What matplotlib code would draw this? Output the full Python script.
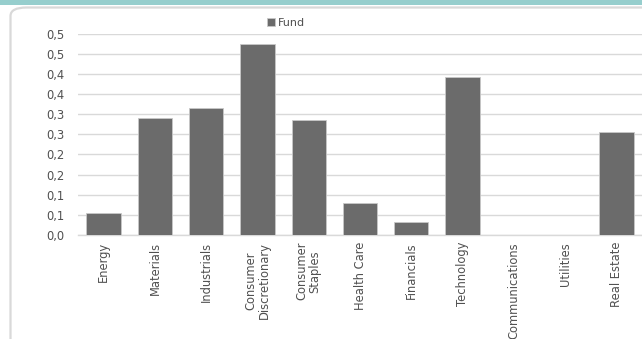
import matplotlib.pyplot as plt
from matplotlib.patches import FancyBboxPatch, Rectangle
import numpy as np

# --- data ---
sectors = ["Energy", "Materials", "Industrials", "Consumer\nDiscretionary",
           "Consumer\nStaples", "Health Care", "Financials", "Technology",
           "Communications", "Utilities", "Real Estate"]
fund = [0.055, 0.290, 0.316, 0.473, 0.285, 0.079, 0.032, 0.393, 0.0, 0.0, 0.256]
y_ticks = [0.0, 0.05, 0.10, 0.15, 0.20, 0.25, 0.30, 0.35, 0.40, 0.45, 0.50]
y_labels = ["0,0", "0,1", "0,1", "0,2", "0,2", "0,3", "0,3", "0,4", "0,4", "0,5", "0,5"]

W, H = 642, 339
fig = plt.figure(figsize=(W / 100, H / 100), dpi=100)

# teal strip on top and the rounded card outline
fig.patches.append(Rectangle((0, 1 - 5 / H), 1, 5 / H, transform=fig.transFigure,
                             facecolor="#96cecd", edgecolor="none", zorder=-2))
fig.patches.append(FancyBboxPatch((10.5 / W, -0.2), 1.2, 1 - 7.5 / H + 0.2,
                                  boxstyle="round,pad=0,rounding_size=0.025",
                                  transform=fig.transFigure, facecolor="white",
                                  edgecolor="#d9d9d9", linewidth=1.6, zorder=-2))

ax = fig.add_axes([78 / W, 1 - 235 / H, 1 - 78 / W, (235 - 33.5) / H])
ax.set_facecolor("none")
ax.set_zorder(2)

x = np.arange(len(sectors))
ax.bar(x, fund, width=0.67, color="#6b6b6b", edgecolor="#c8c8c8", linewidth=0.6,
       label="Fund", zorder=3)

ax.set_xlim(-0.5, len(sectors) - 0.5)
ax.set_ylim(0, 0.5)
ax.set_yticks(y_ticks)
ax.set_yticklabels(y_labels)
ax.set_xticks(x)
ax.set_xticklabels(sectors, rotation=90, va="top", ha="center",
                   multialignment="center", linespacing=1.0)

ax.grid(axis="y", color="#d9d9d9", linewidth=1.0, zorder=0)
for s in ["top", "right", "left"]:
    ax.spines[s].set_visible(False)
ax.spines["bottom"].set_color("#d9d9d9")
ax.spines["bottom"].set_linewidth(1.0)
ax.tick_params(axis="both", length=0, labelsize=8.3, colors="#505050")
ax.tick_params(axis="y", pad=10)
ax.tick_params(axis="x", pad=5)

fig.legend(loc="center", bbox_to_anchor=(286 / W, 1 - 23 / H), frameon=False,
           fontsize=8, handlelength=0.7, handleheight=0.7, handletextpad=0.3,
           labelcolor="#505050")

fig.savefig("out.png", dpi=100)
